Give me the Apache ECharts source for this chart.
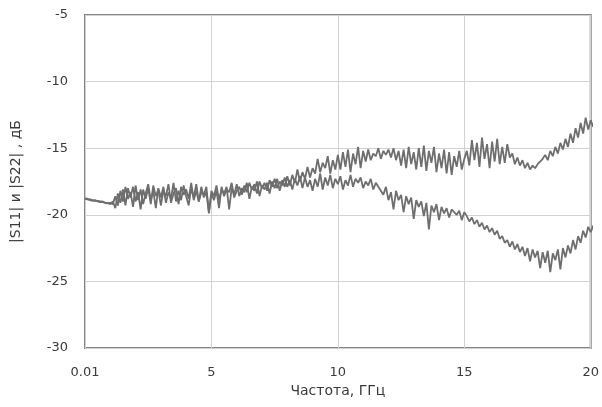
<!DOCTYPE html>
<html><head><meta charset="utf-8">
<script src="https://cdn.jsdelivr.net/npm/echarts@6/dist/echarts.min.js"></script>
<style>html,body{margin:0;padding:0;background:#fff}#c{width:602px;height:407px}</style>
</head><body><div id="c"></div>
<script>
// Frequency sweep grid (GHz): start and step of the measurement
const freqStart = 0.01;
const freqStep = 0.1;
const xTickLabels = ['0.01', '5', '10', '15', '20'];
const yTickLabels = ['-30', '-25', '-20', '-15', '-10', '-5'];
const xAxisTitle = 'Частота, ГГц';
const yAxisTitle = '|S11| и |S22| , дБ';

// |S11|, dB (upper curve at high frequency)
const s11 = [
-18.8,-18.85,-18.9,-18.95,-18.9,-19.0,-19.05,-19.0,-19.1,-19.15,-19.1,
-19.2,-18.6,-19.3,-18.2,-19.0,-17.9,-18.8,-18.3,-19.4,-17.8,
-18.9,-18.1,-19.2,-18.4,-17.7,-18.9,-18.2,-19.5,-18.0,-18.7,
-17.9,-19.1,-18.3,-18.8,-17.6,-19.0,-18.2,-18.9,-17.8,-18.6,
-19.3,-18.0,-18.7,-17.7,-19.0,-18.3,-18.5,-17.9,-19.8,-18.2,
-18.6,-17.8,-18.9,-18.1,-18.4,-17.9,-19.6,-18.0,-18.5,-17.7,
-18.6,-18.0,-18.3,-17.6,-18.8,-17.9,-18.2,-17.5,-18.6,-17.8,
-18.1,-17.6,-18.4,-17.5,-18.0,-17.3,-18.2,-17.4,-17.9,-17.1,
-17.8,-17.0,-17.6,-16.6,-17.5,-16.8,-17.3,-16.4,-17.2,-16.5,
-16.9,-15.8,-16.8,-16.1,-16.5,-15.6,-16.9,-15.9,-16.6,-15.5,
-16.6,-15.3,-16.4,-15.1,-16.8,-15.4,-16.2,-14.9,-16.5,-15.2,
-16.0,-15.1,-15.9,-15.4,-15.6,-15.0,-15.8,-15.2,-15.5,-15.1,
-15.7,-15.0,-15.9,-15.2,-16.3,-15.1,-16.5,-14.9,-16.2,-15.3,
-16.6,-15.0,-16.4,-14.8,-16.7,-15.2,-16.1,-14.9,-16.8,-15.4,
-16.5,-15.1,-16.9,-15.3,-17.0,-15.6,-16.4,-15.2,-16.6,-15.8,
-15.2,-16.3,-14.4,-15.9,-14.6,-16.4,-14.2,-15.8,-14.7,-16.5,
-14.5,-16.0,-14.3,-16.2,-14.9,-16.1,-14.7,-15.7,-15.4,-16.2,
-15.7,-16.3,-15.9,-16.5,-16.1,-16.6,-16.3,-16.5,-16.2,-16.0,
-15.8,-15.5,-15.9,-15.2,-15.6,-14.9,-15.4,-14.6,-15.1,-14.3,
-14.9,-13.9,-14.6,-13.5,-14.2,-13.1,-13.9,-12.7,-13.6,-12.9,-13.4
];

// |S22|, dB (lower curve at high frequency)
const s22 = [
-18.75,-18.8,-18.85,-18.9,-18.95,-18.95,-19.0,-19.05,-19.1,-19.1,-19.2,
-19.0,-19.5,-18.4,-19.1,-18.1,-19.3,-18.0,-18.7,-17.9,-19.0,
-18.3,-19.6,-18.1,-18.8,-18.0,-19.2,-17.8,-18.6,-18.1,-19.3,
-18.2,-18.6,-17.7,-19.1,-18.4,-18.0,-19.2,-17.9,-18.5,-18.1,
-18.8,-17.6,-18.9,-18.2,-19.0,-17.9,-18.7,-18.3,-19.9,-18.4,
-18.9,-18.2,-19.5,-17.9,-18.6,-18.1,-18.3,-17.6,-18.7,-18.2,
-17.9,-18.5,-17.8,-18.3,-17.6,-18.1,-17.7,-18.4,-17.5,-18.0,
-17.6,-18.2,-17.4,-17.9,-17.3,-18.0,-17.5,-17.8,-17.2,-17.9,
-17.4,-18.1,-17.3,-17.8,-17.1,-18.0,-17.2,-17.9,-17.4,-18.2,
-17.3,-17.9,-16.9,-18.1,-17.2,-17.8,-17.0,-18.0,-17.3,-17.7,
-17.1,-18.1,-17.4,-17.8,-17.0,-17.9,-17.3,-17.6,-17.2,-18.0,
-17.5,-17.8,-17.3,-18.1,-17.6,-17.9,-18.2,-18.5,-17.9,-18.9,
-18.3,-19.6,-18.2,-18.9,-18.5,-19.8,-18.6,-19.2,-18.7,-20.3,
-18.9,-19.4,-19.0,-20.1,-19.1,-21.1,-19.3,-19.8,-19.2,-20.4,
-19.4,-19.9,-19.5,-20.2,-19.6,-19.8,-20.0,-19.7,-20.4,-19.8,
-20.1,-20.5,-20.2,-20.7,-20.4,-20.9,-20.6,-21.1,-20.8,-21.3,
-21.0,-21.5,-21.2,-21.8,-21.6,-22.1,-21.9,-22.4,-22.0,-22.6,
-22.2,-22.8,-22.4,-23.1,-22.5,-23.5,-22.6,-23.2,-22.7,-24.0,
-22.8,-23.6,-22.7,-24.3,-22.9,-23.4,-22.6,-24.1,-22.5,-23.2,
-22.3,-22.9,-21.9,-22.6,-21.6,-22.1,-21.2,-21.7,-20.9,-21.3,-20.8
];

function pairs(vals){
  return vals.map((v,i)=>[i===0?freqStart:+(i*freqStep).toFixed(2), v]);
}

const chart = echarts.init(document.getElementById('c'), null, {renderer:'canvas'});
const font = 'DejaVu Sans, Liberation Sans, Arial, sans-serif';
chart.setOption({
  animation:false,
  backgroundColor:'#fff',
  grid:{left:85, right:11, top:15, bottom:59, show:true, borderColor:'#858585', borderWidth:2, backgroundColor:'transparent'},
  xAxis:{
    type:'value', min:0, max:20, interval:5,
    name:xAxisTitle, nameLocation:'middle', nameGap:35,
    nameTextStyle:{fontFamily:font, fontSize:14, color:'#3a3a3a'},
    axisLine:{show:false}, axisTick:{show:false},
    axisLabel:{fontFamily:font, fontSize:13, color:'#3a3a3a', margin:18,
      formatter:(v)=>xTickLabels[Math.round(v/5)]},
    splitLine:{show:true, lineStyle:{color:'#d2d2d2', width:1}}
  },
  yAxis:{
    type:'value', min:-30, max:-5, interval:5,
    name:yAxisTitle, nameLocation:'middle', nameGap:62, nameRotate:90,
    nameTextStyle:{fontFamily:font, fontSize:14, color:'#3a3a3a'},
    axisLine:{show:false}, axisTick:{show:false},
    axisLabel:{fontFamily:font, fontSize:13, color:'#3a3a3a', margin:17,
      formatter:(v)=>yTickLabels[Math.round((v+30)/5)]},
    splitLine:{show:true, lineStyle:{color:'#d2d2d2', width:1}}
  },
  series:[
    {type:'line', data:pairs(s11), showSymbol:false, smooth:false,
     lineStyle:{color:'#6e6e6e', width:1.8}},
    {type:'line', data:pairs(s22), showSymbol:false, smooth:false,
     lineStyle:{color:'#6e6e6e', width:1.8}}
  ]
});
</script></body></html>
